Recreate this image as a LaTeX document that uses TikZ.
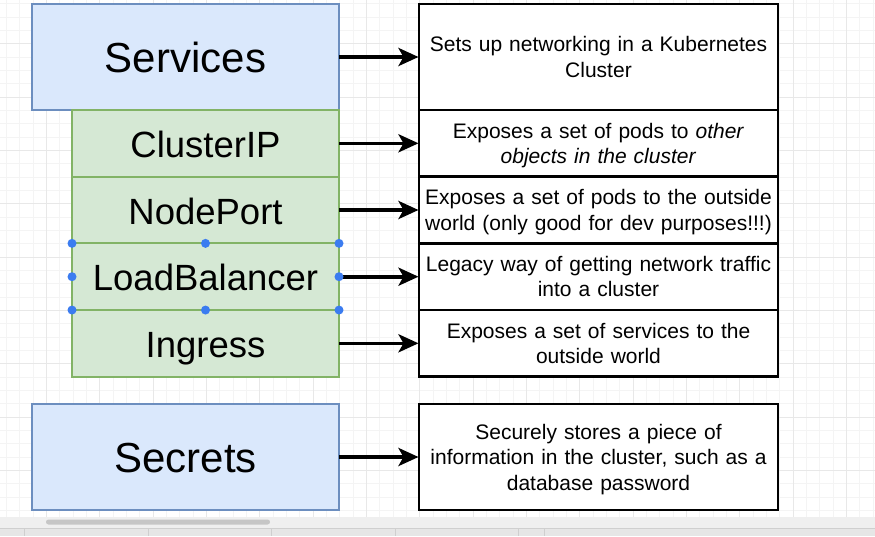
\documentclass[tikz,border=0pt]{standalone}
\usepackage{fontspec}
\setmainfont{Liberation Sans}
\usetikzlibrary{arrows.meta}
\definecolor{svcfill}{HTML}{DAE8FC}
\definecolor{svcline}{HTML}{6C8EBF}
\definecolor{grfill}{HTML}{D5E8D4}
\definecolor{grline}{HTML}{82B366}
\definecolor{handle}{HTML}{3B7CF0}
\definecolor{gridminor}{HTML}{F4F4F4}
\definecolor{gridmajor}{HTML}{E8E8E8}
\definecolor{barfill}{HTML}{EFEFEF}
\definecolor{thumb}{HTML}{C6C6C6}
\definecolor{tabfill}{HTML}{E6E6E6}
\definecolor{tabline}{HTML}{CFCFCF}
\newcommand{\dstrut}{\rule[-5pt]{0pt}{25pt}}
\tikzset{
  box/.style={rectangle, inner sep=0pt, outer sep=0pt, align=center},
  svc/.style={box, draw=svcline, fill=svcfill, line width=1.8pt, minimum width=307pt, minimum height=106pt, font=\fontsize{42}{48}\selectfont, text height=32pt, text depth=1pt},
  kind/.style={box, draw=grline, fill=grfill, line width=1.8pt, minimum width=267pt, minimum height=66.7pt, font=\fontsize{36.5}{42}\selectfont, text height=29.5pt, text depth=1pt},
  desc/.style={box, draw=black, fill=white, line width=2.8pt, minimum width=359pt, minimum height=66.7pt, text width=350pt, font=\fontsize{21}{25.5}\selectfont},
  arr/.style={line width=3.6pt, -{Stealth[length=20pt, width=18pt, inset=5pt]}, shorten >=0.5pt},
  hdl/.style={circle, fill=handle, inner sep=0pt, minimum size=9pt}
}
\begin{document}
\begin{tikzpicture}[x=1pt,y=-1pt]
\useasboundingbox (0,0) rectangle (875,536);
\fill[white] (0,0) rectangle (875,536);
% grid
\foreach \i in {0,...,65} {
  \draw[gridminor, line width=0.8pt] ({6.3+13.333*\i},0) -- ({6.3+13.333*\i},517);
}
\foreach \i in {0,...,38} {
  \draw[gridminor, line width=0.8pt] (0,{3.7+13.333*\i}) -- (875,{3.7+13.333*\i});
}
\foreach \i in {0,...,16} {
  \draw[gridmajor, line width=0.8pt] ({46.3+53.333*\i},0) -- ({46.3+53.333*\i},517);
}
\foreach \i in {-1,...,8} {
  \draw[gridmajor, line width=0.8pt] (0,{43.7+53.333*\i}) -- (875,{43.7+53.333*\i});
}
% bottom bar
\fill[barfill] (0,517) rectangle (875,536);
\fill[thumb, rounded corners=2.5pt] (46,519.5) rectangle (270,524.5);
\fill[tabfill] (0,528) rectangle (875,536);
\draw[tabline, line width=0.8pt] (0,528) -- (875,528);
\foreach \x in {24,148,271,395,518,544} {
  \draw[tabline, line width=0.8pt] (\x,528) -- (\x,536);
}
% left boxes
\node[svc] (services) at (185.5,57) {Services};
\node[kind] (clusterip) at (205.5,143.3) {ClusterIP};
\node[kind] (nodeport) at (205.5,210) {NodePort};
\node[kind] (lb) at (205.5,276.7) {LoadBalancer};
\node[kind] (ingress) at (205.5,343.3) {Ingress};
\node[svc] (secrets) at (185.5,457) {Secrets};
% right boxes
\node[desc, minimum height=106pt] (d1) at (598.5,57) {\dstrut Sets up networking in a Kubernetes\\\dstrut Cluster};
\node[desc] (d2) at (598.5,143.3) {\dstrut Exposes a set of pods to \textit{other}\\\dstrut\textit{objects in the cluster}};
\node[desc] (d3) at (598.5,210) {\dstrut Exposes a set of pods to the outside\\\dstrut world (only good for dev purposes!!!)};
\node[desc] (d4) at (598.5,276.7) {\dstrut Legacy way of getting network traffic\\\dstrut into a cluster};
\node[desc] (d5) at (598.5,343.3) {\dstrut Exposes a set of services to the\\\dstrut outside world};
\node[desc, minimum height=106pt] (d6) at (598.5,457) {\dstrut Securely stores a piece of\\\dstrut information in the cluster, such as a\\\dstrut database password};
% arrows
\draw[arr] (services.east) -- (d1.west);
\draw[arr] (clusterip.east) -- (d2.west);
\draw[arr] (nodeport.east) -- (d3.west);
\draw[arr] (lb.east) -- (d4.west);
\draw[arr] (ingress.east) -- (d5.west);
\draw[arr] (secrets.east) -- (d6.west);
% selection handles
\foreach \p [count=\k] in {lb.north west, lb.north, lb.north east, lb.west, lb.east, lb.south west, lb.south, lb.south east} {
  \node[hdl] (h\k) at (\p) {};
}
\end{tikzpicture}
\end{document}
